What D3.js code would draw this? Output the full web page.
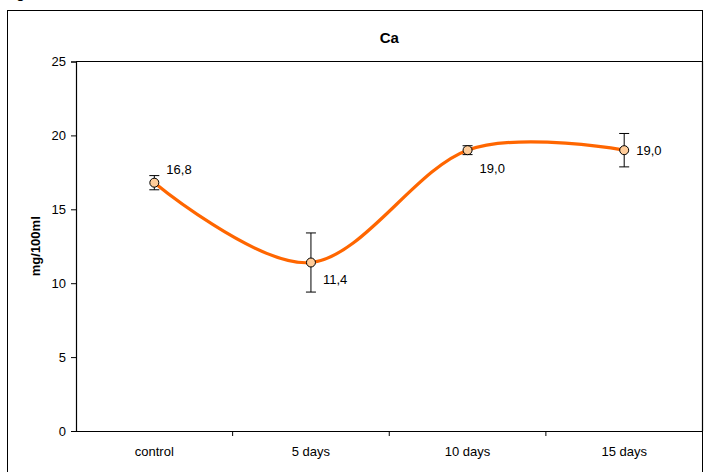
<!DOCTYPE html>
<html>
<head>
<meta charset="utf-8">
<script src="https://cdn.jsdelivr.net/npm/d3@7"></script>
<style>
  body { margin: 0; background: #fff; }
  text { font-family: "Liberation Sans", Arial, sans-serif; }
</style>
</head>
<body>
<svg id="chart" width="705" height="472"></svg>
<script>
// chart data
var categories = ["control", "5 days", "10 days", "15 days"];
var values = [16.8, 11.4, 19.0, 19.0];
var errors = [0.48, 2.0, 0.3, 1.13];
var valueLabels = ["16,8", "11,4", "19,0", "19,0"];
var yTicks = [0, 5, 10, 15, 20, 25];

var svg = d3.select("#chart");

var margin = {left: 76, top: 61.5, right: 702.5, bottom: 431};

// outer chart border
svg.append("rect")
   .attr("x", 7.5).attr("y", 10.5)
   .attr("width", 695).attr("height", 470)
   .attr("fill", "none").attr("stroke", "#000").attr("stroke-width", 1);

// stray glyph from the text above the figure
svg.append("text").attr("x", 16).attr("y", -2).style("font-size", "16px").text("g");

var x = d3.scaleBand().domain(categories).range([margin.left, margin.right]);
var y = d3.scaleLinear().domain([0, 25]).range([margin.bottom, margin.top]);

function cx(i) { return x(categories[i]) + x.bandwidth() / 2; }

// plot area frame (top and right lines)
svg.append("path")
   .attr("d", "M" + margin.left + "," + margin.top + "H" + margin.right + "V" + margin.bottom)
   .attr("fill", "none").attr("stroke", "#000").attr("stroke-width", 1.2);

// y axis
var yAxis = svg.append("g")
   .attr("transform", "translate(" + margin.left + ",0)")
   .call(d3.axisLeft(y).tickValues(yTicks).tickSize(5).tickPadding(5));
yAxis.select(".domain").attr("stroke-width", 1.2);
yAxis.selectAll("text").style("font-size", "13px").attr("fill", "#000");

// x axis with ticks between categories
var xAxis = svg.append("g")
   .attr("transform", "translate(0," + margin.bottom + ")")
   .call(d3.axisBottom(x).tickSize(0).tickPadding(16));
xAxis.select(".domain").attr("stroke-width", 1.2);
xAxis.selectAll("text").style("font-size", "13px").attr("fill", "#000");
xAxis.selectAll(".sep")
   .data(categories.slice(1))
   .enter().append("line")
   .attr("class", "sep")
   .attr("x1", function(d) { return x(d); })
   .attr("x2", function(d) { return x(d); })
   .attr("y1", 0).attr("y2", 5)
   .attr("stroke", "#000");

// title and axis title
svg.append("text")
   .attr("x", (margin.left + margin.right) / 2).attr("y", 43)
   .attr("text-anchor", "middle")
   .style("font-size", "15px").style("font-weight", "bold")
   .text("Ca");

svg.append("text")
   .attr("transform", "translate(40," + ((margin.top + margin.bottom) / 2) + ") rotate(-90)")
   .attr("text-anchor", "middle")
   .style("font-size", "13px").style("font-weight", "bold")
   .text("mg/100ml");

// smoothed line
var line = d3.line()
   .x(function(d, i) { return cx(i); })
   .y(function(d) { return y(d); })
   .curve(d3.curveCardinal.tension(0));

svg.append("path")
   .datum(values)
   .attr("d", line)
   .attr("fill", "none")
   .attr("stroke", "#FF6600")
   .attr("stroke-width", 3.2);

// error bars
var eb = svg.append("g").selectAll("g")
   .data(values)
   .enter().append("g");

eb.append("line")
   .attr("x1", function(d, i) { return cx(i); })
   .attr("x2", function(d, i) { return cx(i); })
   .attr("y1", function(d, i) { return y(d + errors[i]); })
   .attr("y2", function(d, i) { return y(d - errors[i]); })
   .attr("stroke", "#000");

eb.append("line")
   .attr("x1", function(d, i) { return cx(i) - 5; })
   .attr("x2", function(d, i) { return cx(i) + 5; })
   .attr("y1", function(d, i) { return y(d + errors[i]); })
   .attr("y2", function(d, i) { return y(d + errors[i]); })
   .attr("stroke", "#000");

eb.append("line")
   .attr("x1", function(d, i) { return cx(i) - 5; })
   .attr("x2", function(d, i) { return cx(i) + 5; })
   .attr("y1", function(d, i) { return y(d - errors[i]); })
   .attr("y2", function(d, i) { return y(d - errors[i]); })
   .attr("stroke", "#000");

// markers
svg.append("g").selectAll("circle")
   .data(values)
   .enter().append("circle")
   .attr("cx", function(d, i) { return cx(i); })
   .attr("cy", function(d) { return y(d); })
   .attr("r", 4.5)
   .style("fill", "#FFCC99")
   .style("stroke", "#000")
   .style("stroke-width", 1);

// value labels
var labelOffset = [[12, -9], [12, 21], [12, 23], [12, 5]];
svg.append("g").selectAll("text")
   .data(values)
   .enter().append("text")
   .attr("x", function(d, i) { return cx(i) + labelOffset[i][0]; })
   .attr("y", function(d, i) { return y(d) + labelOffset[i][1]; })
   .style("font-size", "13px")
   .text(function(d, i) { return valueLabels[i]; });
</script>
</body>
</html>
